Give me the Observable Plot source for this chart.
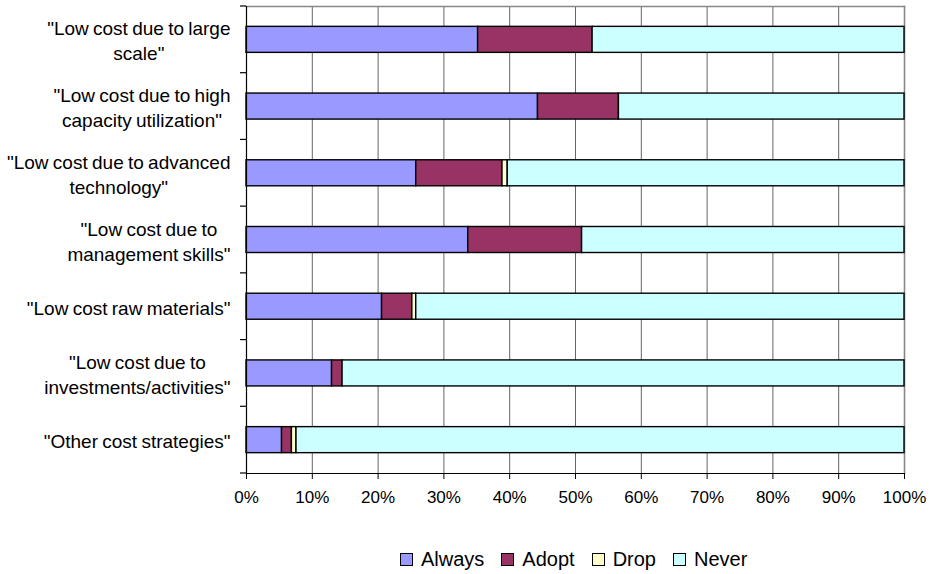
<!DOCTYPE html>
<html>
<head>
<meta charset="utf-8">
<script src="https://cdn.jsdelivr.net/npm/d3@7"></script>
<script src="https://cdn.jsdelivr.net/npm/@observablehq/plot@0.6"></script>
<style>
  body { margin: 0; background: #fff; font-family: "Liberation Sans", Arial, sans-serif; color: #000; }
  #chart svg { display: block; }
  #chart svg text { word-spacing: -1px; }
  #legend { display: flex; align-items: center; padding-left: 400px; height: 24px; margin-top: 27px; font-size: 20px; }
  #legend .item { display: flex; align-items: center; margin-right: 17px; }
  #legend .sw { width: 11px; height: 11px; border: 1px solid #000; margin-right: 8px; box-sizing: content-box; }
</style>
</head>
<body>
<div id="chart"></div>
<div id="legend"></div>
<script>
// Cost strategies, top to bottom
const categories = [
  "\"Low cost due to large\nscale\"",
  "\"Low cost due to high\ncapacity utilization\"",
  "\"Low cost due to advanced\ntechnology\"",
  "\"Low cost due to\nmanagement skills\"",
  "\"Low cost raw materials\"",
  "\"Low cost due to\ninvestments/activities\"",
  "\"Other cost strategies\""
];

// Share of respondents (%) per answer
const always = [35.2, 44.3, 25.8, 33.7, 20.6, 13.0, 5.4];
const adopt  = [17.4, 12.3, 13.1, 17.3,  4.6,  1.6, 1.5];
const drop   = [ 0.0,  0.0,  0.8,  0.0,  0.6,  0.0, 0.7];
const never  = [47.4, 43.4, 60.3, 49.0, 74.2, 85.4, 92.4];

const series = ["Always", "Adopt", "Drop", "Never"];
const seriesColors = ["#9999FF", "#993366", "#FFFFCC", "#CCFFFF"];
const xTicks = [0, 10, 20, 30, 40, 50, 60, 70, 80, 90, 100];

const columns = [always, adopt, drop, never];
const rows = categories.flatMap((category, i) =>
  series.map((s, j) => ({category, series: s, value: columns[j][i]}))
).filter(d => d.value > 0);

// Small outward ticks on the category axis, at the band boundaries
function bandBoundaryTicks(index, scales, values, dims) {
  const y = scales.y;
  const desc = scales.scales && scales.scales.y;
  const bw = typeof y.bandwidth === "function" ? y.bandwidth() : desc.bandwidth;
  const st = typeof y.step === "function" ? y.step() : desc.step;
  const gap = (st - bw) / 2;
  const ys = categories.map(c => y(c) - gap);
  ys.push(y(categories[categories.length - 1]) + bw + gap);
  const g = d3.create("svg:g");
  g.selectAll("line").data(ys).join("line")
    .attr("x1", dims.marginLeft - 6).attr("x2", dims.marginLeft)
    .attr("y1", d => d).attr("y2", d => d)
    .attr("stroke", "#000").attr("stroke-width", 1.2);
  return g.node();
}

const chart = Plot.plot({
  width: 930,
  height: 520,
  marginLeft: 246,
  marginRight: 26,
  marginTop: 6,
  marginBottom: 47,
  style: {fontFamily: "'Liberation Sans', Arial, sans-serif", color: "#000", background: "#fff"},
  x: {domain: [0, 100]},
  y: {domain: categories, paddingInner: 0.61, paddingOuter: 0.305, round: false},
  color: {domain: series, range: seriesColors},
  marks: [
    Plot.gridX(xTicks, {stroke: "#666", strokeOpacity: 1, strokeWidth: 1}),
    Plot.frame({anchor: "top", stroke: "#888", strokeWidth: 1.6}),
    Plot.frame({anchor: "right", stroke: "#888", strokeWidth: 1.6}),
    Plot.barX(rows, Plot.stackX({order: series}, {
      x: "value", y: "category", fill: "series",
      stroke: "#000", strokeWidth: 1.4
    })),
    Plot.frame({anchor: "left", stroke: "#000", strokeWidth: 1.2}),
    Plot.frame({anchor: "bottom", stroke: "#000", strokeWidth: 1.2}),
    Plot.axisX({ticks: xTicks, tickFormat: d => d + "%", tickSize: 6, tickPadding: 11,
      fontSize: 17, label: null, stroke: "#000"}),
    Plot.axisY({tickSize: 0, tickPadding: 16, fontSize: 19, lineWidth: 100, lineHeight: 1.32,
      label: null}),
    bandBoundaryTicks
  ]
});

document.getElementById("chart").appendChild(chart);

// Center each line of the multi-line category labels within its block
const yLabels = chart.querySelector('g[aria-label="y-axis tick label"]');
if (yLabels) {
  yLabels.querySelectorAll("text").forEach(t => {
    const w = t.getBBox().width;
    t.setAttribute("text-anchor", "middle");
    t.style.textAnchor = "middle";
    const tr = t.getAttribute("transform") || "";
    t.setAttribute("transform", tr + ` translate(${-w / 2},0)`);
  });
}

// Legend
const legend = d3.select("#legend");
series.forEach((s, i) => {
  const item = legend.append("div").attr("class", "item");
  item.append("div").attr("class", "sw").style("background", seriesColors[i]);
  item.append("span").text(s);
});
</script>
</body>
</html>
